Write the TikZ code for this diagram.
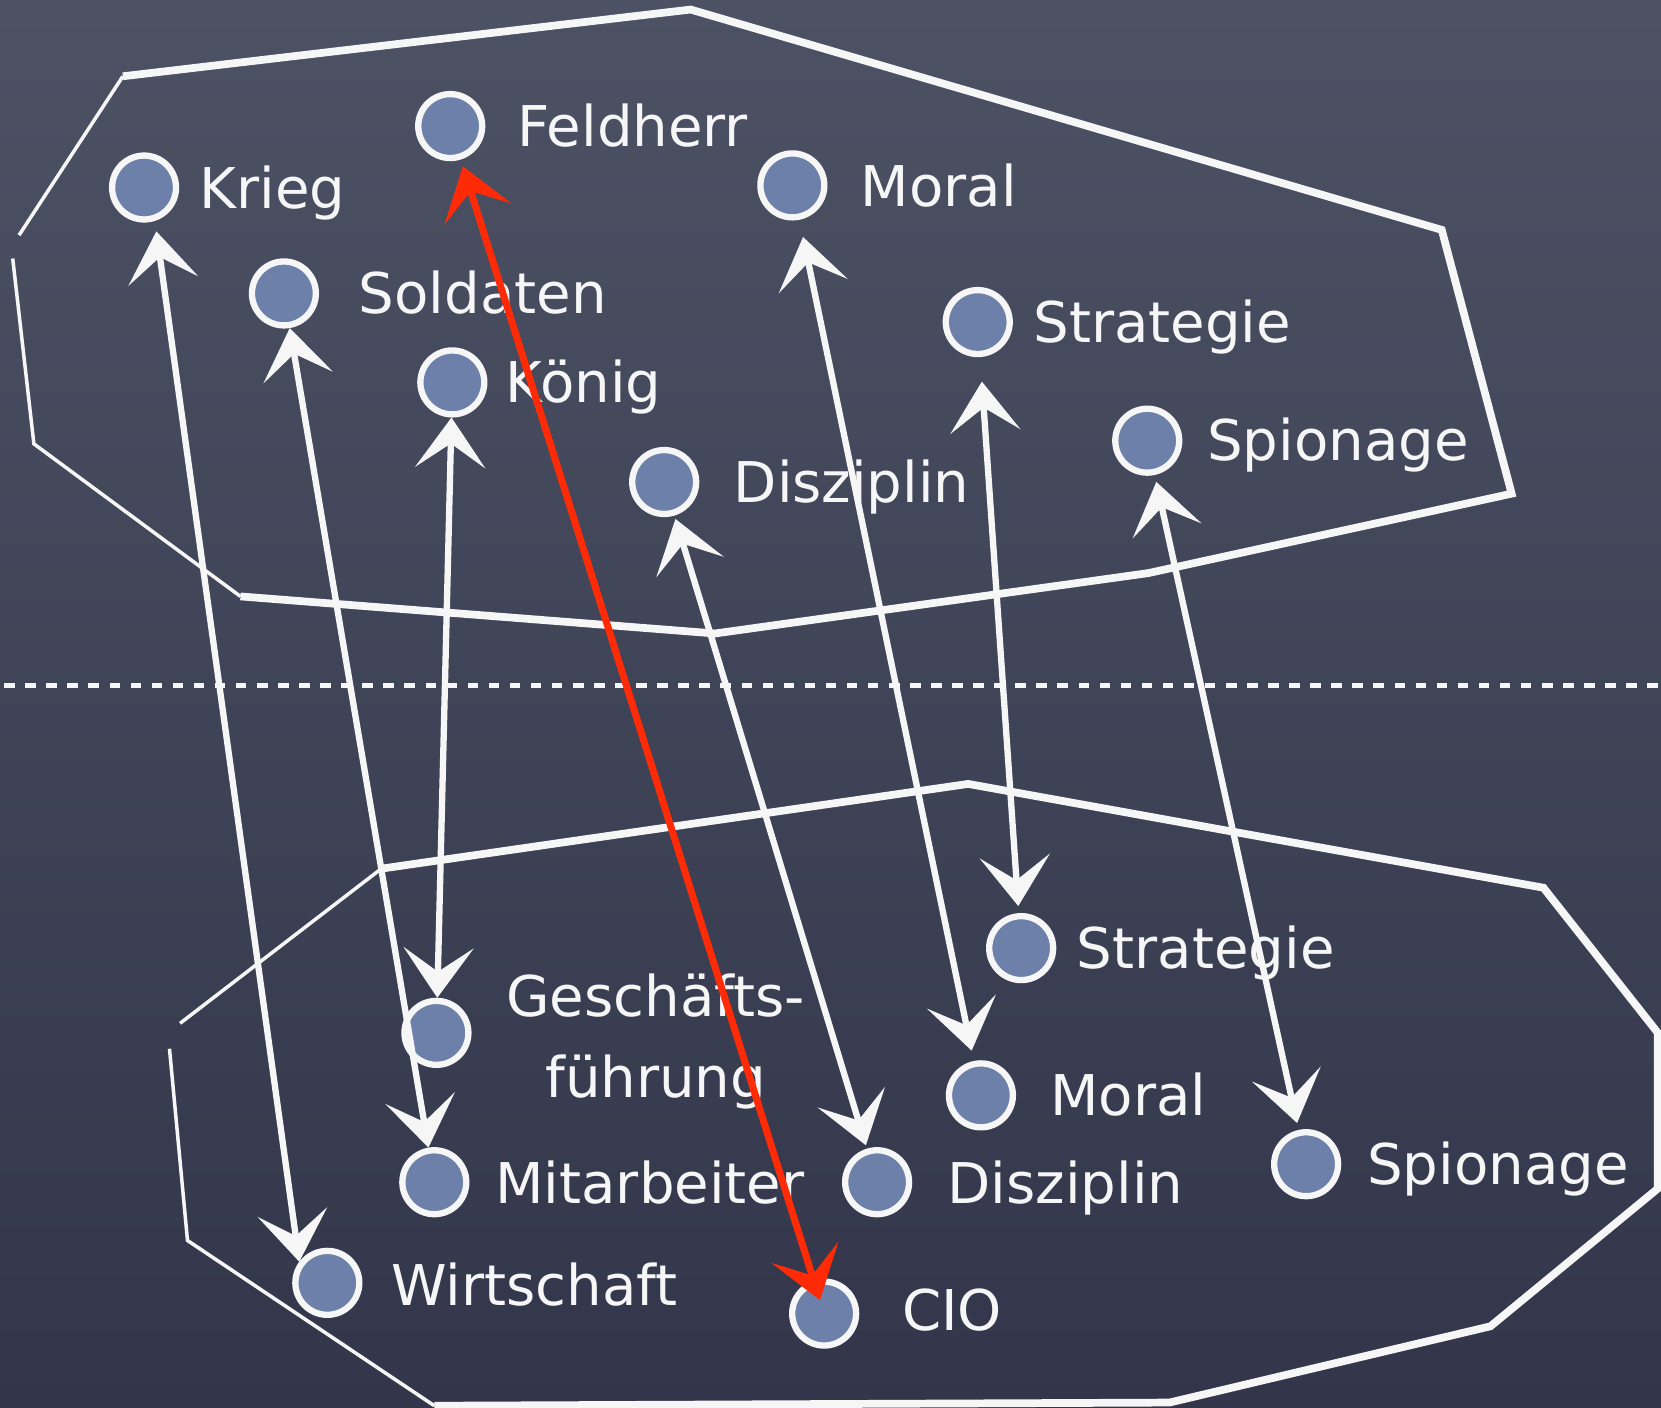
\documentclass[tikz,border=0pt]{standalone}
\usepackage{fontspec}
\setmainfont{DejaVu Sans}
\usetikzlibrary{arrows.meta}

\definecolor{boardtop}{HTML}{4C5164}
\definecolor{boardbot}{HTML}{33364A}
\definecolor{dotblue}{HTML}{6C80AA}
\definecolor{chalk}{HTML}{F6F6F6}
\definecolor{chalkred}{HTML}{FF2B06}

\begin{document}
\begin{tikzpicture}[x=0.0106cm, y=-0.0106cm,
    every node/.style={font=\fontsize{16}{23}\selectfont, text=chalk},
    dot/.style={circle, draw=chalk, line width=1.8pt, fill=dotblue,
      minimum size=0.64cm, inner sep=0pt},
    word/.style={anchor=base west, inner sep=0pt},
    link/.style={draw=chalk, line width=1.8pt, {Stealth[length=0.5cm, width=0.7cm, inset=0.24cm]}-{Stealth[length=0.5cm, width=0.7cm, inset=0.24cm]}},
    redlink/.style={link, draw=chalkred, line width=2pt},
    rim/.style={draw=chalk, line width=2.2pt},
    thinrim/.style={draw=chalk, line width=1pt}]

    % board
    \fill[top color=boardtop, bottom color=boardbot] (0,0) rectangle (1568,1329);
    \useasboundingbox (0,0) rectangle (1568,1329);

    % upper field (Krieg)
    \draw[rim] (227,563) -- (675,598) -- (1084,541) -- (1427,466)
      -- (1361,217) -- (652,9) -- (116,72);
    \draw[thinrim] (116,72) -- (18,222);
    \draw[thinrim] (12,244) -- (32,419) -- (227,563);

    % lower field (Wirtschaft)
    \draw[rim] (360,820) -- (914,740) -- (1457,838) -- (1565,975)
      -- (1565,1122) -- (1407,1252) -- (1104,1324) -- (410,1327);
    \draw[thinrim] (410,1327) -- (177,1171) -- (160,990);
    \draw[thinrim] (170,966) -- (360,820);

    \draw[chalk, line width=1.5pt, dash pattern=on 3pt off 3pt] (4,647) -- (1568,647);% divider

    % upper nodes
    \node[dot] (Krieg)        at (136,177) {};
    \node[dot] (Feldherr)     at (425,119) {};
    \node[dot] (TopMoral)     at (748,175) {};
    \node[dot] (Soldaten)     at (268,277) {};
    \node[dot] (Koenig)       at (427,361) {};
    \node[dot] (TopStrategie) at (923,304) {};
    \node[dot] (TopSpionage)  at (1083,416) {};
    \node[dot] (TopDisziplin) at (627,455) {};

    \node[word] (KriegText)        at (188,197) {Krieg};
    \node[word] (FeldherrText)     at (488,138) {Feldherr};
    \node[word] (TopMoralText)     at (812,195) {Moral};
    \node[word] (SoldatenText)     at (338,296) {Soldaten};
    \node[word] (KoenigText)       at (477,380) {König};
    \node[word] (TopStrategieText) at (975,323) {Strategie};
    \node[word] (TopSpionageText)  at (1139,435) {Spionage};
    \node[word] (TopDisziplinText) at (692,474) {Disziplin};

    % lower nodes
    \node[dot] (BotStrategie) at (964,895) {};
    \node[dot] (Fuehrung)     at (412,975) {};
    \node[dot] (BotMoral)     at (926,1034) {};
    \node[dot] (Mitarbeiter)  at (410,1116) {};
    \node[dot] (BotDisziplin) at (828,1116) {};
    \node[dot] (BotSpionage)  at (1233,1099) {};
    \node[dot] (Wirtschaft)   at (309,1211) {};
    \node[dot] (CIO)          at (778,1240) {};

    \node[word] (BotStrategieText) at (1016,914) {Strategie};
    \node[align=center, inner sep=0pt] (FuehrungText) at (619,983) {Geschäfts-\\führung};
    \node[word] (BotMoralText)     at (991,1053) {Moral};
    \node[word] (MitarbeiterText)  at (467,1136) {Mitarbeiter};
    \node[word] (BotDisziplinText) at (894,1136) {Disziplin};
    \node[word] (BotSpionageText)  at (1290,1118) {Spionage};
    \node[word] (WirtschaftText)   at (369,1232) {Wirtschaft};
    \node[word] (CIOText)          at (851,1256) {CIO};

    % mapping
    \draw[link, shorten <=3pt] (Krieg.-72) -- (Wirtschaft.143);
    \draw[link] (Soldaten) -- (Mitarbeiter);
    \draw[link] (Koenig) -- (Fuehrung);
    \draw[link, shorten <=1pt, shorten >=1pt] (TopDisziplin) -- (BotDisziplin);
    \draw[link, shorten <=5pt, shorten >=3pt] (TopMoral) -- (BotMoral);
    \draw[link, shorten <=7pt, shorten >=2pt] (TopStrategie) -- (BotStrategie);
    \draw[link, shorten <=2pt, shorten >=2pt] (TopSpionage) -- (BotSpionage);
    \draw[redlink, shorten <=2pt, shorten >=-6pt] (Feldherr) -- (CIO);% the odd one
\end{tikzpicture}
\end{document}
